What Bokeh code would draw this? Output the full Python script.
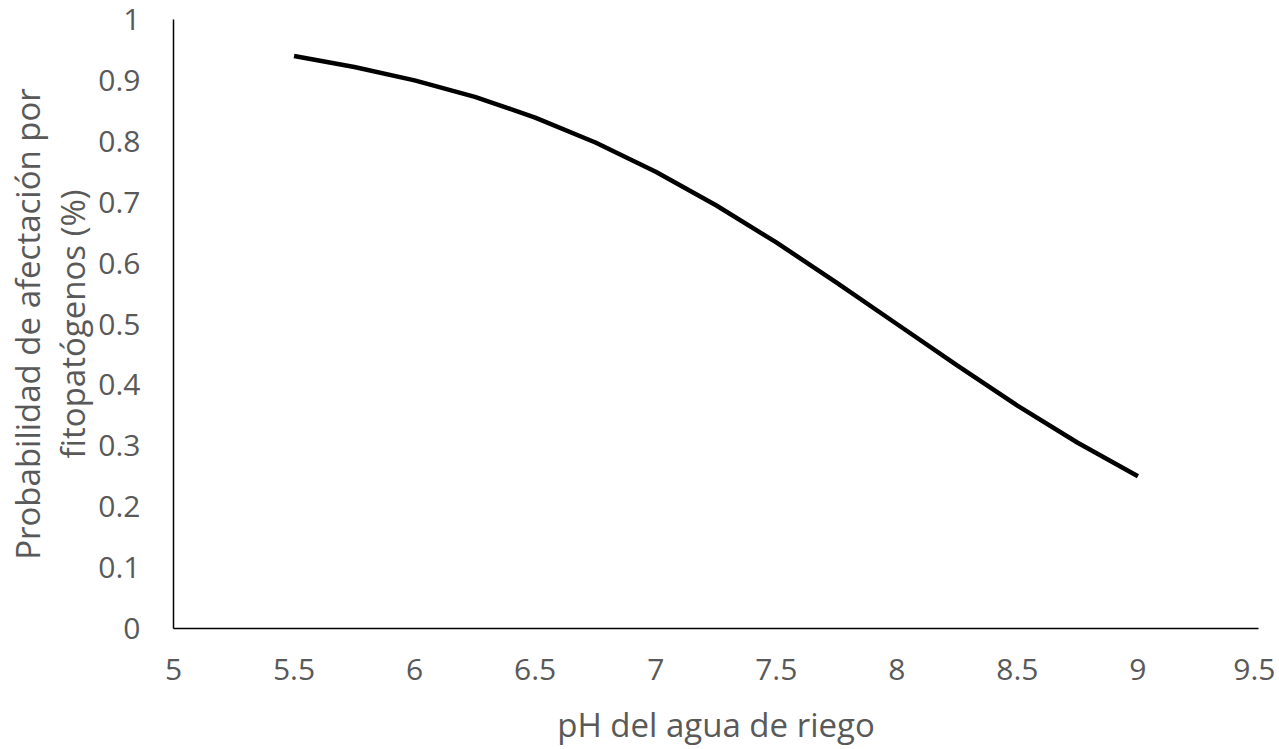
from bokeh.plotting import figure
from bokeh.models import FixedTicker, Range1d
from bokeh.embed import file_html
from bokeh.resources import INLINE

# Data
ph = [5.5, 5.75, 6.0, 6.25, 6.5, 6.75, 7.0, 7.25, 7.5, 7.75, 8.0, 8.25, 8.5, 8.75, 9.0]
prob = [0.940, 0.922, 0.900, 0.873, 0.839, 0.798, 0.750, 0.695, 0.634, 0.568,
        0.500, 0.432, 0.366, 0.305, 0.250]

x_ticks = [5, 5.5, 6, 6.5, 7, 7.5, 8, 8.5, 9, 9.5]
x_tick_labels = ["5", "5.5", "6", "6.5", "7", "7.5", "8", "8.5", "9", "9.5"]
y_ticks = [0, 0.1, 0.2, 0.3, 0.4, 0.5, 0.6, 0.7, 0.8, 0.9, 1]
y_tick_labels = ["0", "0.1", "0.2", "0.3", "0.4", "0.5", "0.6", "0.7", "0.8", "0.9", "1"]

FONT = "Open Sans"
GREY = "#595959"

p = figure(width=1275, height=749, output_backend="svg", toolbar_location=None,
           x_range=Range1d(5, 9.5), y_range=Range1d(0, 1),
           min_border_left=173, min_border_right=17, min_border_top=19, min_border_bottom=120)
p.outline_line_color = None
p.xgrid.visible = False
p.ygrid.visible = False

p.line(ph, prob, line_color="black", line_width=4.5)

for ax, ticks, labels in ((p.xaxis[0], x_ticks, x_tick_labels), (p.yaxis[0], y_ticks, y_tick_labels)):
    ax.ticker = FixedTicker(ticks=ticks)
    ax.major_label_overrides = {t: l for t, l in zip(ticks, labels)}
    ax.major_tick_out = 0
    ax.major_tick_in = 0
    ax.minor_tick_out = 0
    ax.minor_tick_in = 0
    ax.axis_line_color = "black"
    ax.axis_line_width = 1.5
    ax.major_label_text_font = FONT
    ax.major_label_text_color = GREY
    ax.major_label_text_font_size = "30px"
    ax.axis_label_text_font = FONT
    ax.axis_label_text_color = GREY
    ax.axis_label_text_font_size = "33px"
    ax.axis_label_text_font_style = "normal"

p.xaxis.axis_label = "pH del agua de riego"
p.yaxis.axis_label = "Probabilidad de afectación por\nfitopatógenos (%)"
p.yaxis.axis_label_text_line_height = 1.0
p.xaxis.major_label_standoff = 30
p.xaxis.axis_label_standoff = 19
p.yaxis.major_label_standoff = 33
p.yaxis.axis_label_standoff = 0

open("out.html", "w").write(file_html(p, INLINE))
